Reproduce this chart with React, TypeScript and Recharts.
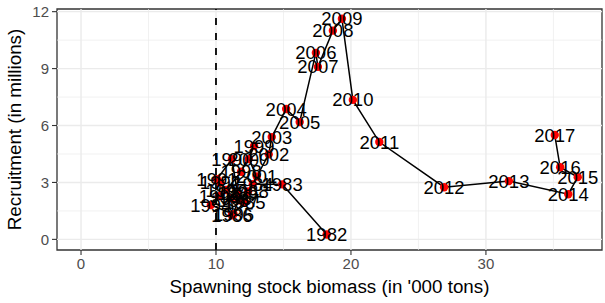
import React from "react";
import {
  ScatterChart,
  Scatter,
  XAxis,
  YAxis,
  ReferenceLine,
  ReferenceArea,
  LabelList,
  Label,
} from "recharts";

const years = [
  1982, 1983, 1984, 1985, 1986, 1987, 1988, 1989, 1990, 1991, 1992, 1993,
  1994, 1995, 1996, 1997, 1998, 1999, 2000, 2001, 2002, 2003, 2004, 2005,
  2006, 2007, 2008, 2009, 2010, 2011, 2012, 2013, 2014, 2015, 2016, 2017,
];
const ssb = [
  18.2, 14.9, 12.73, 12.14, 11.18, 11.71, 12.38, 11.59, 11.18, 10.07, 10.33,
  10.24, 9.62, 11.3, 11.12, 10.75, 11.86, 12.82, 12.43, 13.02, 13.91, 14.13,
  15.2, 16.2, 17.4, 17.55, 18.66, 19.33, 20.14, 22.1, 26.9, 31.7, 36.1, 36.8,
  35.5, 35.1,
];
const recruitment = [
  0.26, 2.9, 2.91, 1.97, 1.27, 2.06, 2.52, 2.42, 4.23, 3.17, 3.0, 2.27, 1.81,
  1.32, 2.17, 2.6, 3.56, 4.92, 4.23, 3.31, 4.48, 5.39, 6.87, 6.18, 9.83, 9.09,
  11.0, 11.63, 7.35, 5.13, 2.75, 3.07, 2.38, 3.28, 3.8, 5.5,
];

const xTicks = [0, 10, 20, 30];
const xMinor = [5, 15, 25, 35];
const yTicks = [0, 3, 6, 9, 12];
const yMinor = [1.5, 4.5, 7.5, 10.5];
const xDomain: [number, number] = [-1.78, 38.6];
const yDomain: [number, number] = [-0.56, 12.14];
const threshold = 10;

const data = years.map((yr, i) => ({ x: ssb[i], y: recruitment[i], year: yr }));

const FONT = "'Liberation Sans', Arial, sans-serif";
const GRID = "#EBEBEB";

export default function App() {
  return (
    <div style={{ position: "absolute", left: 0, top: 0, background: "#fff" }}>
      <ScatterChart
        width={605}
        height={303}
        margin={{ top: 9, right: 3, bottom: 0, left: 0 }}
        style={{ fontFamily: FONT }}
      >
        <XAxis
          type="number"
          dataKey="x"
          domain={xDomain}
          ticks={xTicks}
          allowDataOverflow
          height={53}
          axisLine={false}
          tickLine={{ stroke: "#333333", strokeWidth: 1.1 }}
          tickSize={5}
          tickMargin={3}
          tick={{ fill: "#4D4D4D", fontSize: 15, fontFamily: FONT }}
        >
          <Label
            content={() => (
              <text
                x={329.5}
                y={293}
                textAnchor="middle"
                fontSize={18.8}
                fill="#000"
                fontFamily={FONT}
              >
                Spawning stock biomass (in '000 tons)
              </text>
            )}
          />
        </XAxis>
        <YAxis
          type="number"
          dataKey="y"
          domain={yDomain}
          ticks={yTicks}
          allowDataOverflow
          width={57}
          axisLine={false}
          tickLine={{ stroke: "#333333", strokeWidth: 1.1 }}
          tickSize={5}
          tickMargin={3}
          tick={{ fill: "#4D4D4D", fontSize: 15, fontFamily: FONT }}
        >
          <Label
            content={() => (
              <text
                x={20.5}
                y={129.5}
                transform="rotate(-90 20.5 129.5)"
                textAnchor="middle"
                fontSize={18.8}
                fill="#000"
                fontFamily={FONT}
              >
                Recruitment (in millions)
              </text>
            )}
          />
        </YAxis>

        {xMinor.map((v) => (
          <ReferenceLine key={"xm" + v} x={v} stroke={GRID} strokeWidth={0.7} />
        ))}
        {yMinor.map((v) => (
          <ReferenceLine key={"ym" + v} y={v} stroke={GRID} strokeWidth={0.7} />
        ))}
        {xTicks.map((v) => (
          <ReferenceLine key={"xM" + v} x={v} stroke={GRID} strokeWidth={1.4} />
        ))}
        {yTicks.map((v) => (
          <ReferenceLine key={"yM" + v} y={v} stroke={GRID} strokeWidth={1.4} />
        ))}
        <ReferenceLine
          x={threshold}
          stroke="#000"
          strokeWidth={1.8}
          strokeDasharray="7 8"
        />

        <Scatter
          data={data}
          isAnimationActive={false}
          line={{ stroke: "#000", strokeWidth: 1.5 }}
          lineType="joint"
          shape={() => <g />}
        >
          <LabelList
            dataKey="year"
            position="center"
            fill="#000"
            fontSize={18.5}
            fontFamily={FONT}
          />
        </Scatter>
        <Scatter
          data={data}
          isAnimationActive={false}
          shape={(p: any) => <circle cx={p.cx} cy={p.cy} r={4.2} fill="#FF0000" />}
        />

        <ReferenceArea
          x1={xDomain[0]}
          x2={xDomain[1]}
          y1={yDomain[0]}
          y2={yDomain[1]}
          fill="none"
          fillOpacity={0}
          stroke="#333333"
          strokeWidth={1.3}
          ifOverflow="visible"
        />
      </ScatterChart>
    </div>
  );
}
